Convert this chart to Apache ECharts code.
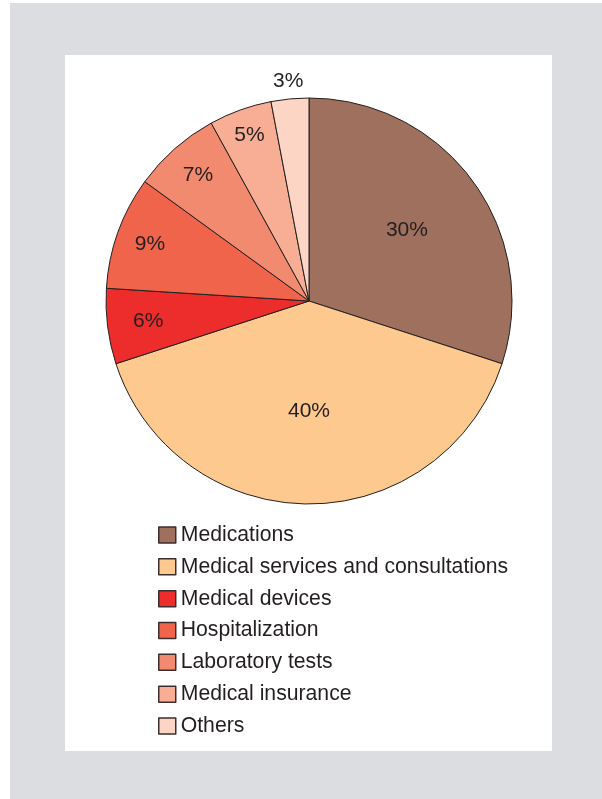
<!DOCTYPE html>
<html>
<head>
<meta charset="utf-8">
<script src="https://cdn.jsdelivr.net/npm/echarts@6/dist/echarts.min.js"></script>
<style>
  html, body { margin: 0; padding: 0; background: #ffffff; }
  #frame { position: absolute; left: 10px; top: 3px; width: 592px; height: 796px; background: #dcdde0; }
  #panel { position: absolute; left: 65px; top: 55px; width: 487px; height: 696px; background: #ffffff; }
  #chart { position: absolute; left: 0; top: 0; width: 602px; height: 799px; }
</style>
</head>
<body>
<div id="frame"></div>
<div id="panel"></div>
<div id="chart"></div>
<script>
// Share of spending by category (%)
const categories = [
  'Medications',
  'Medical services and consultations',
  'Medical devices',
  'Hospitalization',
  'Laboratory tests',
  'Medical insurance',
  'Others'
];
const shares = [30, 40, 6, 9, 7, 5, 3];

const sliceColors = ['#a0705f', '#fdc98e', '#ec2d2b', '#ef644a', '#f28a70', '#f7ae95', '#fcd5c5'];

// Radial distance (px from centre) of each percentage label; ECharts adds 3px outward for inside labels
const labelRadius = [118, 107, 159, 166, 165, 173, 218];

const FONT = '"Liberation Sans", Arial, Helvetica, sans-serif';
const INK = '#231f20';
const CENTER = [309, 301];
const R = 203;

const chart = echarts.init(document.getElementById('chart'), null, { renderer: 'canvas' });

const mainSeries = {
  type: 'pie',
  center: CENTER,
  radius: [0, R],
  startAngle: 90,
  clockwise: true,
  silent: true,
  avoidLabelOverlap: false,
  label: { show: false },
  labelLine: { show: false },
  emphasis: { disabled: true },
  itemStyle: { borderColor: INK, borderWidth: 1 },
  data: categories.map((name, i) => ({
    name,
    value: shares[i],
    itemStyle: { color: sliceColors[i] }
  }))
};

// Invisible rings that carry one percentage label each at its own radius
const labelSeries = categories.map((_, i) => ({
  type: 'pie',
  center: CENTER,
  radius: [labelRadius[i] - 10, labelRadius[i] + 10],
  startAngle: 90,
  clockwise: true,
  silent: true,
  avoidLabelOverlap: false,
  emphasis: { disabled: true },
  itemStyle: { color: 'transparent', borderWidth: 0 },
  labelLine: { show: false },
  label: {
    position: 'inside',
    formatter: '{c}%',
    fontFamily: FONT,
    fontSize: 21,
    color: INK
  },
  data: shares.map((v, j) => ({ value: v, label: { show: j === i } }))
}));

chart.setOption({
  animation: false,
  backgroundColor: 'transparent',
  legend: {
    orient: 'vertical',
    left: 158,
    top: 524.5,
    padding: 0,
    icon: 'rect',
    itemWidth: 17,
    itemHeight: 16,
    itemGap: 10.83,
    selectedMode: false,
    data: categories,
    itemStyle: { borderColor: '#3b2f2d', borderWidth: 1.5 },
    textStyle: { fontFamily: FONT, fontSize: 21.2, lineHeight: 21, color: INK }
  },
  series: [mainSeries, ...labelSeries]
});
</script>
</body>
</html>
